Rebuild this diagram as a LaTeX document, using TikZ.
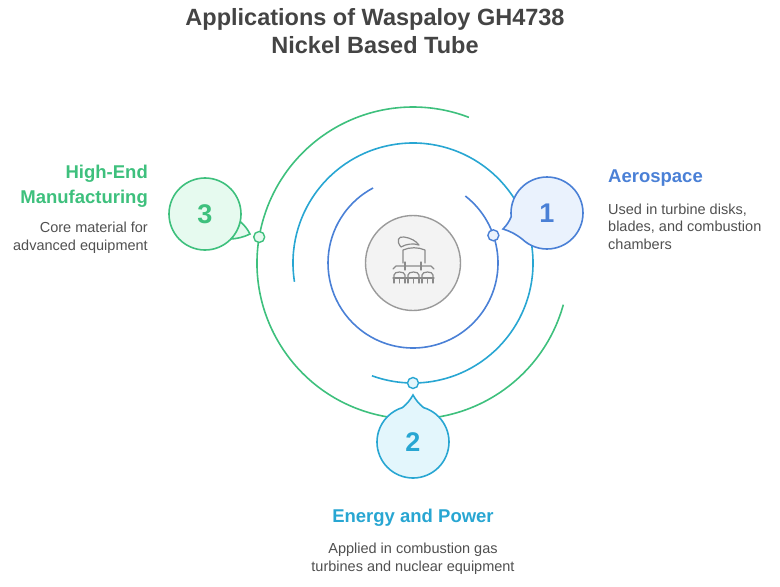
\documentclass[tikz,border=0pt]{standalone}
\usepackage{fontspec}
\setmainfont{Liberation Sans}
\usepackage{tikz}
\usetikzlibrary{positioning}
\usepackage{xcolor}
\definecolor{apblue}{RGB}{74,128,214}
\definecolor{apbluelight}{RGB}{234,242,253}
\definecolor{apcyan}{RGB}{40,166,210}
\definecolor{apcyanlight}{RGB}{227,246,252}
\definecolor{apgreen}{RGB}{62,192,125}
\definecolor{apgreenlight}{RGB}{230,250,239}
\definecolor{aptitle}{RGB}{68,68,68}
\definecolor{aptext}{RGB}{80,80,80}
\definecolor{aphub}{RGB}{154,154,154}
\definecolor{aphubfill}{RGB}{243,243,243}
\definecolor{apicon}{RGB}{138,138,138}
\tikzstyle{orbit} = [line width=1.6pt]
\tikzstyle{dot} = [circle, minimum size=11pt, inner sep=0pt, line width=1.4pt]
\tikzstyle{bubble} = [line width=1.6pt]
\tikzstyle{number} = [font=\bfseries\fontsize{27}{30}\selectfont]
\tikzstyle{title} = [font=\bfseries\fontsize{23.5}{28}\selectfont, text=aptitle, align=center, inner sep=0pt]
\tikzstyle{heading} = [font=\bfseries\fontsize{18.5}{25}\selectfont, inner sep=0pt]
\tikzstyle{body} = [font=\fontsize{14.5}{17.5}\selectfont, text=aptext, inner sep=0pt]
\tikzstyle{icon} = [draw=apicon, line width=1.2pt, line cap=round, line join=round]

\begin{document}
\begin{tikzpicture}[x=1pt,y=-1pt]
\useasboundingbox (0,0) rectangle (780,587);

% Title
\node[title, anchor=base] (title) at (375,53) {Applications of Waspaloy GH4738\\Nickel Based Tube};

% Hub
\coordinate (c) at (413,263);
\node[circle, draw=aphub, fill=aphubfill, line width=1.4pt, minimum size=95pt] (hub) at (c) {};

% Icon
\draw[icon] (401,247) .. controls (396,241) and (398,236) .. (404,237) .. controls (411,238) and (416,241) .. (419,245) .. controls (413,243) and (406,244) .. (401,247);
\draw[icon] (403,263) -- (403,250) .. controls (410,247) and (418,247) .. (425,250) -- (425,263);
\draw[icon] (393,269) -- (396,266) -- (431,266) -- (434,269);
\draw[icon] (405,262) -- (405,270) (421,262) -- (421,270);
\draw[icon] (394,277) -- (394,275) .. controls (394,271) and (405,271) .. (405,275) -- (405,277);
\draw[icon] (408,277) -- (408,275) .. controls (408,271) and (419,271) .. (419,275) -- (419,277);
\draw[icon] (422,277) -- (422,275) .. controls (422,271) and (433,271) .. (433,275) -- (433,277);
\draw[icon] (393,278) -- (434,278);
\foreach \lx in {394,399.5,405,408,413.5,419,422,427.5,433}
  \draw[icon] (\lx,278) -- (\lx,283);

% Orbits
\draw[orbit, apblue] (c) ++(308:85) arc[start angle=308, end angle=602, radius=85];
\draw[orbit, apcyan] (c) ++(171:120) arc[start angle=171, end angle=470, radius=120];
\draw[orbit, apgreen] (c) ++(15.5:156) arc[start angle=15.5, end angle=291, radius=156];

% Dots on the orbits
\path (c) ++(341:85) node[dot, draw=apblue, fill=apbluelight] (dot1) {};
\path (c) ++(90:120) node[dot, draw=apcyan, fill=apcyanlight] (dot2) {};
\path (c) ++(189.6:156) node[dot, draw=apgreen, fill=apgreenlight] (dot3) {};

% Bubbles
\coordinate (b1) at (547,213);
\coordinate (tip1) at (503,229);
\path (b1) ++(174:36) coordinate (b1s);
\filldraw[bubble, draw=apblue, fill=apbluelight] (b1s) arc[start angle=174, end angle=493, radius=36] to[bend right=10] (tip1) to[bend right=10] (b1s) -- cycle;
\node[number, text=apblue] (n1) at (b1) {1};

\coordinate (b2) at (413,442);
\coordinate (tip2) at (413,395);
\path (b2) ++(287:36) coordinate (b2s);
\filldraw[bubble, draw=apcyan, fill=apcyanlight] (b2s) arc[start angle=287, end angle=613, radius=36] to[bend right=10] (tip2) to[bend right=10] (b2s) -- cycle;
\node[number, text=apcyan] (n2) at (b2) {2};

\coordinate (b3) at (205,214);
\coordinate (tip3) at (250,234);
\path (b3) ++(12:36) coordinate (b3s);
\filldraw[bubble, draw=apgreen, fill=apgreenlight] (b3s) arc[start angle=12, end angle=404, radius=36] to[bend right=10] (tip3) to[bend right=10] (b3s) -- cycle;
\node[number, text=apgreen] (n3) at (b3) {3};

% Labels
\node[heading, text=apblue, anchor=base west] (aero) at (608,182) {Aerospace};
\node[body, anchor=base west, align=left] (aerotext) at (608,249) {Used in turbine disks,\\blades, and combustion\\chambers};

\node[heading, text=apcyan, anchor=base] (energy) at (413,522) {Energy and Power};
\node[body, anchor=base, align=center] (energytext) at (413,571) {Applied in combustion gas\\turbines and nuclear equipment};

\node[heading, text=apgreen, anchor=base east, align=right] (manu) at (148,203) {High-End\\Manufacturing};
\node[body, anchor=base east, align=right] (manutext) at (148,250) {Core material for\\advanced equipment};
\end{tikzpicture}
\end{document}
